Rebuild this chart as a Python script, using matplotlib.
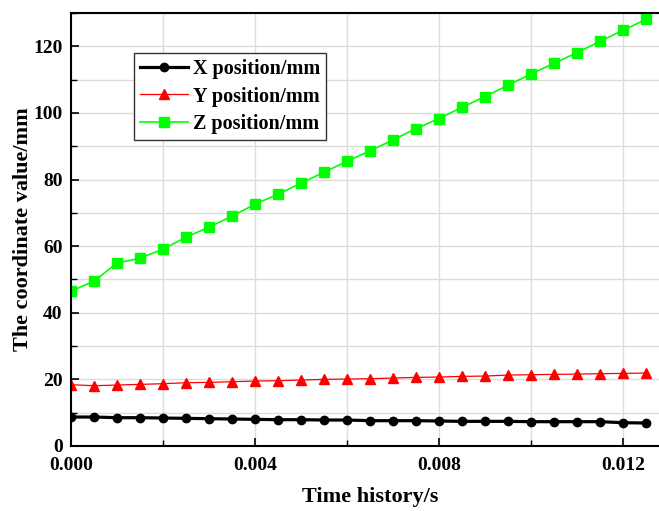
import matplotlib
matplotlib.use("Agg")
import matplotlib.pyplot as plt
from matplotlib.ticker import MultipleLocator, FormatStrFormatter

plt.rcParams['font.family'] = ['Liberation Serif', 'DejaVu Serif']
plt.rcParams['font.weight'] = 'bold'

# Sample times (s)
time_s = [0.0000, 0.0005, 0.0010, 0.0015, 0.0020, 0.0025, 0.0030, 0.0035, 0.0040,
          0.0045, 0.0050, 0.0055, 0.0060, 0.0065, 0.0070, 0.0075, 0.0080, 0.0085,
          0.0090, 0.0095, 0.0100, 0.0105, 0.0110, 0.0115, 0.0120, 0.0125]

# Coordinates (mm)
x_pos = [8.7, 8.7, 8.5, 8.5, 8.4, 8.3, 8.2, 8.1, 8.0, 7.9, 7.9, 7.8, 7.8,
         7.6, 7.6, 7.6, 7.5, 7.4, 7.4, 7.4, 7.3, 7.3, 7.3, 7.3, 7.0, 6.9]
y_pos = [18.4, 18.1, 18.3, 18.5, 18.7, 19.0, 19.1, 19.3, 19.5, 19.6, 19.8, 20.0, 20.1,
         20.2, 20.4, 20.6, 20.7, 20.9, 21.0, 21.3, 21.4, 21.5, 21.6, 21.7, 21.8, 21.9]
z_pos = [46.5, 49.5, 54.9, 56.4, 59.1, 62.7, 65.7, 69.0, 72.6, 75.6, 78.9, 82.2, 85.5,
         88.6, 91.9, 95.3, 98.3, 101.7, 104.9, 108.3, 111.7, 114.9, 118.1, 121.5, 124.8, 128.1]

labels = ['X position/mm', 'Y position/mm', 'Z position/mm']

W, H = 659, 511
fig = plt.figure(figsize=(W / 100, H / 100), dpi=100)
# plot frame runs slightly past the right edge of the canvas
ax = fig.add_axes([71 / W, 1 - 446 / H, 598 / W, 433 / H])

ax.plot(time_s, x_pos, color='black', lw=2.3, marker='o', ms=6, label=labels[0])
ax.plot(time_s, y_pos, color='#ff0000', lw=0.9, marker='^', ms=7, label=labels[1])
ax.plot(time_s, z_pos, color='#00ff00', lw=1.2, marker='s', ms=6.5, label=labels[2])

ax.set_xlim(0, 0.013)
ax.set_ylim(0, 130)

ax.xaxis.set_major_locator(MultipleLocator(0.004))
ax.xaxis.set_minor_locator(MultipleLocator(0.002))
ax.xaxis.set_major_formatter(FormatStrFormatter('%.3f'))
ax.yaxis.set_major_locator(MultipleLocator(20))
ax.yaxis.set_minor_locator(MultipleLocator(10))

ax.grid(True, which='both', color='#dcdcdc', lw=1.0)
ax.set_axisbelow(True)

ax.tick_params(which='major', direction='in', length=6, width=1.2, labelsize=14,
               right=False, top=False)
ax.tick_params(which='minor', direction='in', length=4, width=1.0,
               right=False, top=False)
ax.tick_params(axis='x', which='major', pad=8)
ax.tick_params(axis='y', which='major', pad=6)
for lbl in ax.get_xticklabels() + ax.get_yticklabels():
    lbl.set_fontweight('bold')

for side in ['left', 'bottom', 'top', 'right']:
    ax.spines[side].set_linewidth(1.5)

ax.set_xlabel('Time history/s', fontsize=16, fontweight='bold', labelpad=9)
ax.set_ylabel('The coordinate value/mm', fontsize=16, fontweight='bold', labelpad=0)

leg = ax.legend(loc='upper left', bbox_to_anchor=(0.105, 0.908), borderaxespad=0,
                fancybox=False, framealpha=1, edgecolor='#333333',
                prop={'size': 14.5, 'weight': 'bold'},
                handlelength=2.4, handletextpad=0.25, labelspacing=0.38,
                borderpad=0.3)
leg.get_frame().set_linewidth(1.0)

fig.savefig('out.png', dpi=100)
